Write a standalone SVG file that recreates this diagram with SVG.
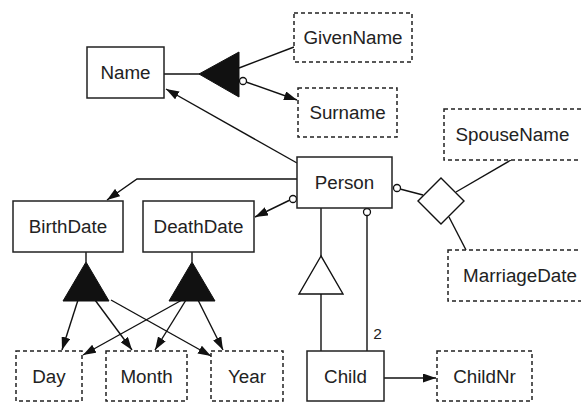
<svg xmlns="http://www.w3.org/2000/svg" width="581" height="403" viewBox="0 0 581 403">
<defs>
<marker id="arr" markerUnits="userSpaceOnUse" markerWidth="14" markerHeight="9" refX="13" refY="4.5" orient="auto">
<path d="M0,0 L13,4.5 L0,9 z" fill="#111"/>
</marker>
<style>
.box{fill:#fff;stroke:#222;stroke-width:1.5}
.dbox{fill:#fff;stroke:#222;stroke-width:1.5;stroke-dasharray:4,3}
.t{font-family:"Liberation Sans",Arial,sans-serif;font-size:18.8px;fill:#222;text-anchor:middle}
.ln{fill:none;stroke:#111;stroke-width:1.4}
.ar{fill:none;stroke:#111;stroke-width:1.4;marker-end:url(#arr)}
.tri{fill:#111;stroke:#111;stroke-width:1}
.circ{fill:#fff;stroke:#111;stroke-width:1.3}
</style>
</defs>
<rect width="581" height="403" fill="#fff"/>
<g id="connectors">
<line class="ln" x1="164" y1="74" x2="200" y2="74"/>
<line class="ln" x1="239" y1="68" x2="294" y2="47"/>
<line class="ar" x1="246" y1="82" x2="297" y2="100"/>
<line class="ar" x1="297" y1="163" x2="166" y2="89"/>
<polyline class="ar" points="297,179 137,179 107,200"/>
<line class="ar" x1="290" y1="200" x2="255" y2="217"/>
<line class="ln" x1="400" y1="189" x2="423" y2="195"/>
<line class="ln" x1="456" y1="192" x2="511" y2="160"/>
<line class="ln" x1="449" y1="217" x2="466" y2="250"/>
<line class="ln" x1="321" y1="208" x2="321" y2="256"/>
<line class="ln" x1="321" y1="294" x2="321" y2="351"/>
<line class="ln" x1="367" y1="215" x2="367" y2="351"/>
<line class="ar" x1="384" y1="378" x2="436" y2="378"/>
<line class="ln" x1="86" y1="252" x2="86" y2="262"/>
<line class="ln" x1="192" y1="252" x2="192" y2="262"/>
<line class="ar" x1="78" y1="300" x2="62" y2="350"/>
<line class="ar" x1="95" y1="300" x2="132" y2="350"/>
<line class="ar" x1="111" y1="300" x2="211" y2="356"/>
<line class="ar" x1="182" y1="300" x2="83" y2="355"/>
<line class="ar" x1="186" y1="300" x2="155" y2="350"/>
<line class="ar" x1="198" y1="300" x2="223" y2="350"/>
<polygon class="tri" points="199,74 239,52 239,97"/>
<polygon class="tri" points="86,262 63,301 109,301"/>
<polygon class="tri" points="192,262 169,301 215,301"/>
<polygon points="321,256 299,294 343,294" fill="#fff" stroke="#111" stroke-width="1.4"/>
<polygon points="441,178 464,201 441,224 418,201" fill="#fff" stroke="#111" stroke-width="1.4"/>
<circle class="circ" cx="243" cy="81" r="3.5"/>
<circle class="circ" cx="293" cy="199" r="3.5"/>
<circle class="circ" cx="397" cy="188" r="3.5"/>
<circle class="circ" cx="367" cy="212" r="3.5"/>
<text class="t" x="377.5" y="339" style="font-size:15.5px">2</text>
</g>
<g id="Name"><rect class="box" x="87" y="47" width="77" height="51"/><text class="t" x="125.5" y="79">Name</text></g>
<g id="GivenName"><rect class="dbox" x="294" y="13" width="118" height="49"/><text class="t" x="353" y="44">GivenName</text></g>
<g id="Surname"><rect class="dbox" x="298" y="88" width="99" height="49"/><text class="t" x="347.5" y="119">Surname</text></g>
<g id="Person"><rect class="box" x="297" y="157" width="95" height="51"/><text class="t" x="344.5" y="189">Person</text></g>
<g id="SpouseName"><rect class="dbox" x="444" y="109" width="150" height="51"/><text class="t" x="512.5" y="141">SpouseName</text></g>
<g id="MarriageDate"><rect class="dbox" x="448" y="250" width="150" height="51"/><text class="t" x="520" y="282">MarriageDate</text></g>
<g id="BirthDate"><rect class="box" x="13" y="201" width="110" height="51"/><text class="t" x="68" y="233">BirthDate</text></g>
<g id="DeathDate"><rect class="box" x="143" y="201" width="111" height="51"/><text class="t" x="198.5" y="233">DeathDate</text></g>
<g id="Day"><rect class="dbox" x="16" y="351" width="66" height="50"/><text class="t" x="49" y="383">Day</text></g>
<g id="Month"><rect class="dbox" x="106" y="351" width="81" height="50"/><text class="t" x="146.5" y="383">Month</text></g>
<g id="Year"><rect class="dbox" x="211" y="351" width="72" height="50"/><text class="t" x="247" y="383">Year</text></g>
<g id="Child"><rect class="box" x="307" y="351" width="77" height="50"/><text class="t" x="345.5" y="383">Child</text></g>
<g id="ChildNr"><rect class="dbox" x="437" y="351" width="95" height="50"/><text class="t" x="484.5" y="383">ChildNr</text></g>
</svg>
